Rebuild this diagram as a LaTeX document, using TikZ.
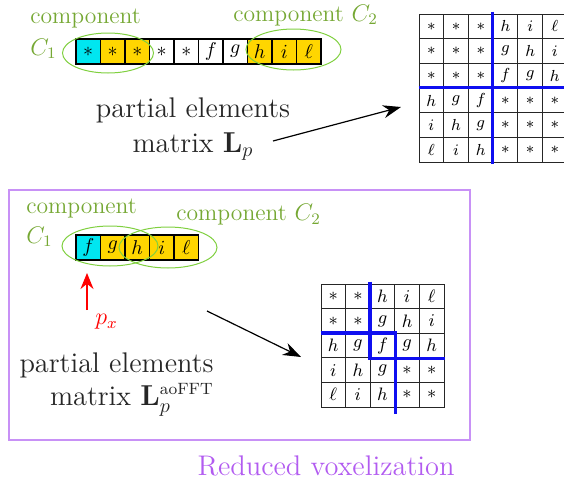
\documentclass[tikz,border=0pt]{standalone}
\usetikzlibrary{arrows.meta}
\definecolor{cgreen}{RGB}{118,168,52}
\definecolor{egreen}{RGB}{128,208,64}
\definecolor{cellcyan}{RGB}{0,230,240}
\definecolor{cellgold}{RGB}{255,214,0}
\definecolor{vio}{RGB}{178,92,240}
\definecolor{viobox}{RGB}{200,145,246}
\definecolor{cutblue}{RGB}{15,15,240}
\begin{document}
\begin{tikzpicture}[x=0.5pt,y=-0.5pt,
  cell/.style={draw=black!85, line width=0.45pt, minimum size=12.35pt, inner sep=0pt,
    font=\fontsize{8}{9}\selectfont},
  arrcell/.style={draw=black, line width=0.8pt, minimum size=12.25pt, inner sep=0pt,
    font=\fontsize{10}{11}\selectfont},
  glabel/.style={text=cgreen, inner sep=0pt},
  comp/.style={draw=egreen, line width=0.5pt},
  bigtext/.style={text=black!85, inner sep=0pt},
  cut/.style={draw=cutblue, line width=1.8pt},
  conn/.style={draw=black, line width=0.6pt, -{Stealth[length=9pt,width=6.5pt]}},
  redconn/.style={draw=red, line width=1pt, -{Stealth[length=8pt,width=6.5pt]}}]
\useasboundingbox (0,0) rectangle (564,483);

% ---------- full voxelization: array of partial elements ----------
\foreach \sym/\col [count=\i] in {\ast/cellcyan,\ast/cellgold,\ast/cellgold,\ast/white,\ast/white,f/white,g/white,h/cellgold,i/cellgold,\ell/cellgold}
  \node[arrcell, fill=\col] (a\i) at ({76+24.5*(\i-0.5)},51.5) {$\sym$};

\draw[comp] (108,53) ellipse [x radius=45.5, y radius=20];
\draw[comp] (293.5,49.5) ellipse [x radius=47.5, y radius=20.5];

\node[glabel, anchor=base west, font=\fontsize{11.8}{16}\selectfont] (c1a) at (30,23)
  {\begin{tabular}[t]{@{}l@{}}component\\$C_1$\end{tabular}};
\node[glabel, anchor=base west, font=\fontsize{11.8}{16}\selectfont] (c2a) at (233,21)
  {component $C_2$};

\node[bigtext, anchor=base, font=\fontsize{14.2}{17.5}\selectfont] (lpa) at (193,117)
  {\begin{tabular}[t]{@{}c@{}}partial elements\\matrix $\mathbf{L}_p$\end{tabular}};

% full matrix
\foreach \row [count=\r] in {{\ast,\ast,\ast,h,i,\ell},{\ast,\ast,\ast,g,h,i},{\ast,\ast,\ast,f,g,h},{h,g,f,\ast,\ast,\ast},{i,h,g,\ast,\ast,\ast},{\ell,i,h,\ast,\ast,\ast}}
  \foreach \sym [count=\c] in \row
    \node[cell] (m-\r-\c) at ({419+24.7*(\c-0.5)},{14+24.7*(\r-0.5)}) {$\sym$};
\draw[cut] ([yshift=1pt]m-1-4.north west) -- ([yshift=-0.5pt]m-6-4.south west);
\draw[cut] (m-4-1.north west) -- ([xshift=4pt]m-4-6.north east);

\coordinate (ta) at (273,141);
\coordinate (tb) at (401,107);
\draw[conn] (ta) -- (tb);

% ---------- reduced voxelization ----------
\draw[viobox, line width=0.75pt] (9,190) rectangle (470,440);

\foreach \sym/\col [count=\i] in {f/cellcyan,g/cellgold,h/cellgold,i/cellgold,\ell/cellgold}
  \node[arrcell, fill=\col] (b\i) at ({76+24.5*(\i-0.5)},247.5) {$\sym$};

\draw[comp] (110,246) ellipse [x radius=48, y radius=20];
\draw[comp] (168,247.5) ellipse [x radius=49, y radius=20.5];

\node[glabel, anchor=base west, font=\fontsize{11.8}{15}\selectfont] (c1b) at (26,213)
  {\begin{tabular}[t]{@{}l@{}}component\\$C_1$\end{tabular}};
\node[glabel, anchor=base west, font=\fontsize{11.8}{15}\selectfont] (c2b) at (176,220.5)
  {component $C_2$};

\coordinate (ra) at (87,310);
\coordinate (rb) at (87,273);
\draw[redconn] (ra) -- (rb);
\node[text=red, inner sep=0pt, font=\fontsize{12}{14}\selectfont] (px) at (106.5,322) {$p_x$};

\node[bigtext, anchor=base east, font=\fontsize{14.2}{16.5}\selectfont] (lpb) at (214,372)
  {\begin{tabular}[t]{@{}r@{}}partial elements\\matrix $\mathbf{L}_p^{\mbox{\fontsize{8.2}{9}\selectfont aoFFT}}$\end{tabular}};

% reduced matrix
\foreach \row [count=\r] in {{\ast,\ast,h,i,\ell},{\ast,\ast,g,h,i},{h,g,f,g,h},{i,h,g,\ast,\ast},{\ell,i,h,\ast,\ast}}
  \foreach \sym [count=\c] in \row
    \node[cell, font=\fontsize{9}{10}\selectfont] (n-\r-\c) at ({321+24.6*(\c-0.5)},{284+24.6*(\r-0.5)}) {$\sym$};
\draw[cut] ([yshift=1pt]n-1-3.north west) -- (n-3-3.south west) -- (n-3-5.south east);
\draw[cut] (n-3-1.north west) -- (n-3-3.north east) -- ([yshift=-3pt]n-5-3.south east);

\coordinate (ba) at (207,311);
\coordinate (bb) at (301,357);
\draw[conn] (ba) -- (bb);

\node[text=vio, anchor=base, inner sep=0pt, font=\fontsize{14.2}{17}\selectfont] (rv) at (326,475)
  {Reduced voxelization};
\end{tikzpicture}
\end{document}
